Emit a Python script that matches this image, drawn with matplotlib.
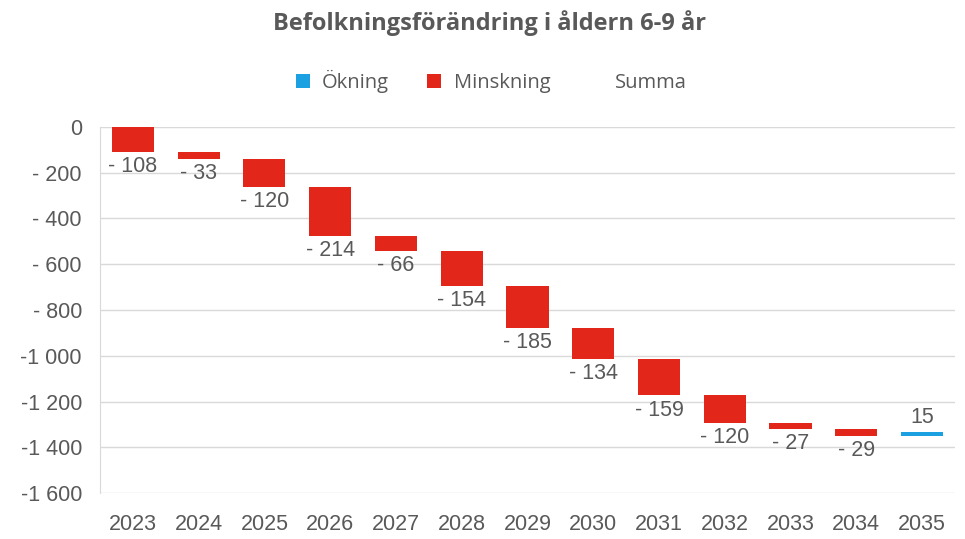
import matplotlib.pyplot as plt
plt.switch_backend('agg')
import numpy as np
from matplotlib.patches import Patch
from matplotlib.ticker import FuncFormatter

years = ["2023", "2024", "2025", "2026", "2027", "2028", "2029",
         "2030", "2031", "2032", "2033", "2034", "2035"]
changes = [-108, -33, -120, -214, -66, -154, -185, -134, -159, -120, -27, -29, 15]
yticks = [0, -200, -400, -600, -800, -1000, -1200, -1400, -1600]

red = "#E3261A"
blue = "#1BA1E2"
grey = "#595959"


def fmt_num(v, pos=None):
    v = int(round(v))
    s = f"{abs(v):,}".replace(",", " ")
    if v < 0:
        return ("-" if abs(v) >= 1000 else "- ") + s
    return s


fig = plt.figure(figsize=(9.65, 5.39), dpi=100)
ax = fig.add_axes([0.1036, 0.0853, 0.886, 0.6791])

vals = np.array(changes)
ends = np.cumsum(vals)
starts = ends - vals
x = np.arange(len(years))

for i, v in enumerate(vals):
    bottom = min(starts[i], ends[i])
    col = red if v < 0 else blue
    ax.bar(x[i], abs(v), bottom=bottom, width=0.64, color=col, zorder=3)
    if v < 0:
        ax.annotate(fmt_num(v), (x[i], ends[i]), xytext=(0, -3),
                    textcoords="offset points", ha="center", va="top",
                    fontsize=15.5, color=grey, family="Liberation Sans", zorder=4)
    else:
        ax.annotate(fmt_num(v), (x[i], ends[i]), xytext=(0, 3),
                    textcoords="offset points", ha="center", va="bottom",
                    fontsize=15.5, color=grey, family="Liberation Sans", zorder=4)

ax.set_xlim(-0.5, len(years) - 0.5)
ax.set_ylim(-1600, 0)
ax.set_yticks(yticks)
ax.yaxis.set_major_formatter(FuncFormatter(fmt_num))
ax.set_xticks(x)
ax.set_xticklabels(years)

ax.grid(axis="y", color="#D9D9D9", linewidth=1, zorder=0)
for s in ["top", "right", "bottom"]:
    ax.spines[s].set_visible(False)
ax.spines["left"].set_color("#D9D9D9")
ax.tick_params(axis="x", length=0, pad=15, labelsize=15.5, labelcolor=grey)
ax.tick_params(axis="y", length=0, pad=13, labelsize=15.5, labelcolor=grey)
for lab in ax.get_xticklabels() + ax.get_yticklabels():
    lab.set_family("Liberation Sans")

fig.text(0.507, 0.958, "Befolkningsförändring i åldern 6-9 år", ha="center", va="center",
         fontsize=17, fontweight="bold", color=grey, family="Open Sans")

handles = [Patch(facecolor=blue), Patch(facecolor=red), Patch(facecolor="none", edgecolor="none")]
leg = fig.legend(handles, ["Ökning", "Minskning", "Summa"], loc="center",
                 bbox_to_anchor=(0.509, 0.848), ncol=3, frameon=False,
                 handlelength=0.7, handleheight=0.7, handletextpad=0.6,
                 columnspacing=1.9, prop={"family": "Open Sans", "size": 14.5})
for t in leg.get_texts():
    t.set_color(grey)

fig.savefig("out.png", dpi=100)
